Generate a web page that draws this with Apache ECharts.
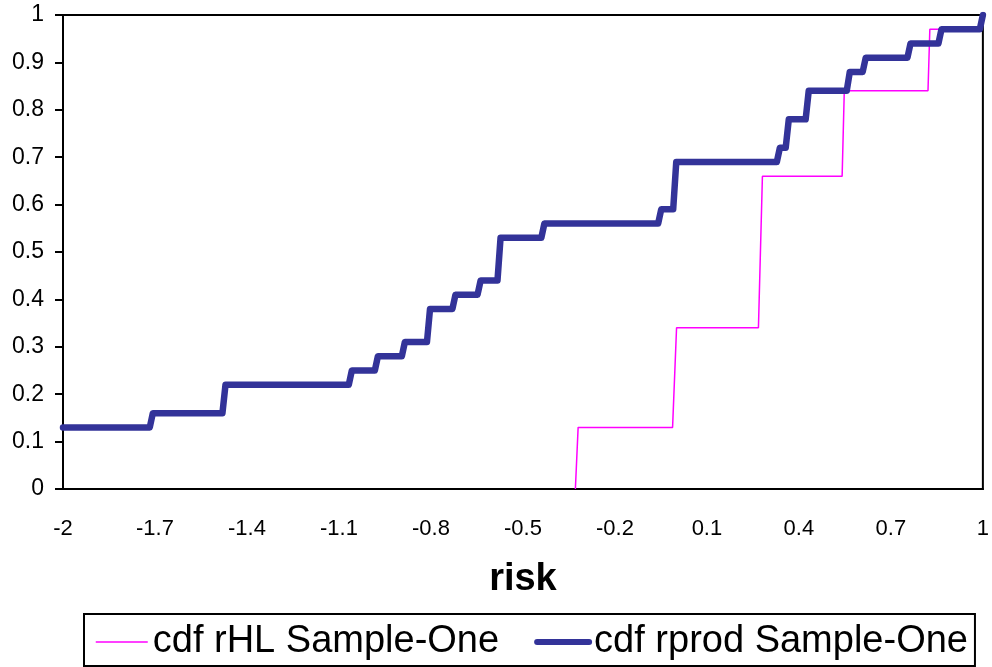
<!DOCTYPE html>
<html>
<head>
<meta charset="UTF-8">
<title>cdf risk</title>
<style type="text/css">
	body{margin:0;padding:0;background:#fff;}
	#chart{width:992px;height:667px;}
</style>
</head>
<body>
<div id="chart"></div>
<script src="https://cdn.jsdelivr.net/npm/echarts@6/dist/echarts.min.js"></script>
<script>
// x ticks: -2 .. 1 step 0.3
var xTicks = [-2, -1.7, -1.4, -1.1, -0.8, -0.5, -0.2, 0.1, 0.4, 0.7, 1];

// cdf rHL Sample-One (thin magenta)
var rhlX = [-0.329, -0.320, -0.012, 0.001, 0.268, 0.281, 0.541, 0.548, 0.821, 0.827, 0.990, 1.000];
var rhlY = [0,      0.13,   0.13,   0.34,  0.34,  0.66,  0.66,  0.84,  0.84,  0.97,  0.97,  1.00];

// cdf rprod Sample-One (thick blue)
var prodX = [-2, -1.717, -1.707, -1.480, -1.470, -1.068, -1.058, -0.983, -0.973, -0.895, -0.885,
	-0.813, -0.803, -0.730, -0.720, -0.648, -0.638, -0.583, -0.573, -0.440, -0.430,
	-0.059, -0.049, -0.010, 0.000, 0.328, 0.338, 0.357, 0.367, 0.422, 0.432,
	0.556, 0.566, 0.608, 0.618, 0.754, 0.764, 0.855, 0.865, 0.990, 1.000];
var prodY = [0.13, 0.13, 0.16, 0.16, 0.22, 0.22, 0.25, 0.25, 0.28, 0.28, 0.31,
	0.31, 0.38, 0.38, 0.41, 0.41, 0.44, 0.44, 0.53, 0.53, 0.56,
	0.56, 0.59, 0.59, 0.69, 0.69, 0.72, 0.72, 0.78, 0.78, 0.84,
	0.84, 0.88, 0.88, 0.91, 0.91, 0.94, 0.94, 0.97, 0.97, 1.00];

function pairs(xs, ys){
	var out = [];
	for (var i = 0; i < xs.length; i++) out.push([xs[i], ys[i]]);
	return out;
}

var font = 'Liberation Sans, Arial, sans-serif';
var chart = echarts.init(document.getElementById('chart'));
chart.setOption({
	animation: false,
	grid: {left: 63, right: 7, top: 15, bottom: 178, show: true, borderColor: '#000', borderWidth: 2},
	legend: {
		left: 84, top: 614,
		padding: [9, 7, 5, 11],
		borderColor: '#000', borderWidth: 2,
		itemWidth: 52, itemGap: 35, itemHeight: 14,
		textStyle: {fontFamily: font, fontSize: 38, color: '#000'},
		data: [
			{name: 'cdf rHL Sample-One', itemStyle: {opacity: 0}, lineStyle: {width: 1.5, color: '#FF00FF'}},
			{name: 'cdf rprod Sample-One', itemStyle: {opacity: 0}, lineStyle: {width: 6, color: '#333399', cap: 'round'}}
		]
	},
	xAxis: {
		type: 'value', min: -2, max: 1, interval: 0.3,
		name: 'risk', nameLocation: 'middle', nameGap: 72,
		nameTextStyle: {fontFamily: font, fontSize: 38, fontWeight: 'bold', color: '#000'},
		axisLine: {show: true, onZero: false, lineStyle: {color: '#000', width: 2}},
		axisTick: {show: false},
		splitLine: {show: false},
		axisLabel: {
			fontFamily: font, fontSize: 22, color: '#000', margin: 29,
			formatter: function(v){ return String(+v.toFixed(1)); }
		}
	},
	yAxis: {
		type: 'value', min: 0, max: 1, interval: 0.1,
		axisLine: {show: true, onZero: false, lineStyle: {color: '#000', width: 2}},
		axisTick: {show: true, length: 8, lineStyle: {color: '#000', width: 2}},
		splitLine: {show: false},
		axisLabel: {
			fontFamily: font, fontSize: 23, color: '#000', margin: 19,
			formatter: function(v){ return String(+v.toFixed(1)); }
		}
	},
	series: [
		{
			name: 'cdf rHL Sample-One', type: 'line', symbol: 'none',
			data: pairs(rhlX, rhlY),
			lineStyle: {color: '#FF00FF', width: 1.5},
			itemStyle: {color: '#FF00FF'}
		},
		{
			name: 'cdf rprod Sample-One', type: 'line', symbol: 'none',
			data: pairs(prodX, prodY),
			lineStyle: {color: '#333399', width: 6.5, join: 'round', cap: 'round'},
			itemStyle: {color: '#333399'}
		}
	]
});
</script>
</body>
</html>
